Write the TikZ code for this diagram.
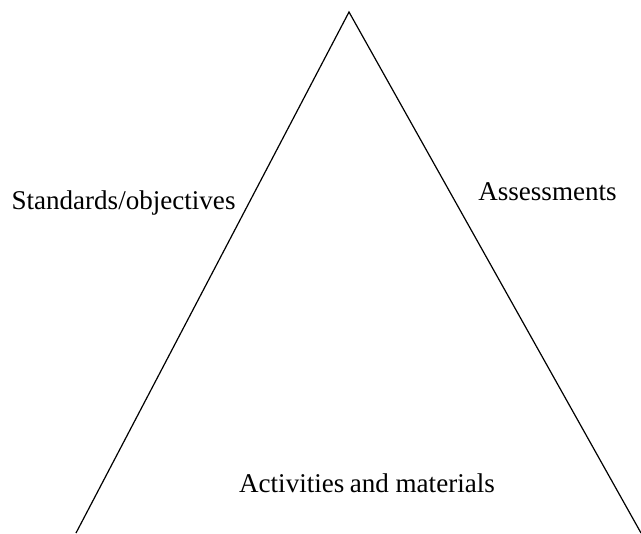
\documentclass[tikz,border=0pt]{standalone}
\usepackage{fontspec}
\setmainfont{Liberation Serif}
\begin{document}
\begin{tikzpicture}[x=0.75pt,y=-0.75pt,
  lbl/.style={anchor=base,inner sep=0pt,font=\fontsize{20.3}{24}\selectfont}]
\useasboundingbox (0,0) rectangle (641,533);
\coordinate (top) at (349,12);
\coordinate (left) at (76,533);
\coordinate (right) at (641,533);
\draw[line width=0.9pt] (left) -- (top) -- (right);
\node[lbl] (std) at (123.5,209) {Standards/objectives};
\node[lbl] (ass) at (547.5,200) {Assessments};
\node[lbl] (act) at (367,492) {Activities\hspace{-1pt} and materials};
\end{tikzpicture}
\end{document}
